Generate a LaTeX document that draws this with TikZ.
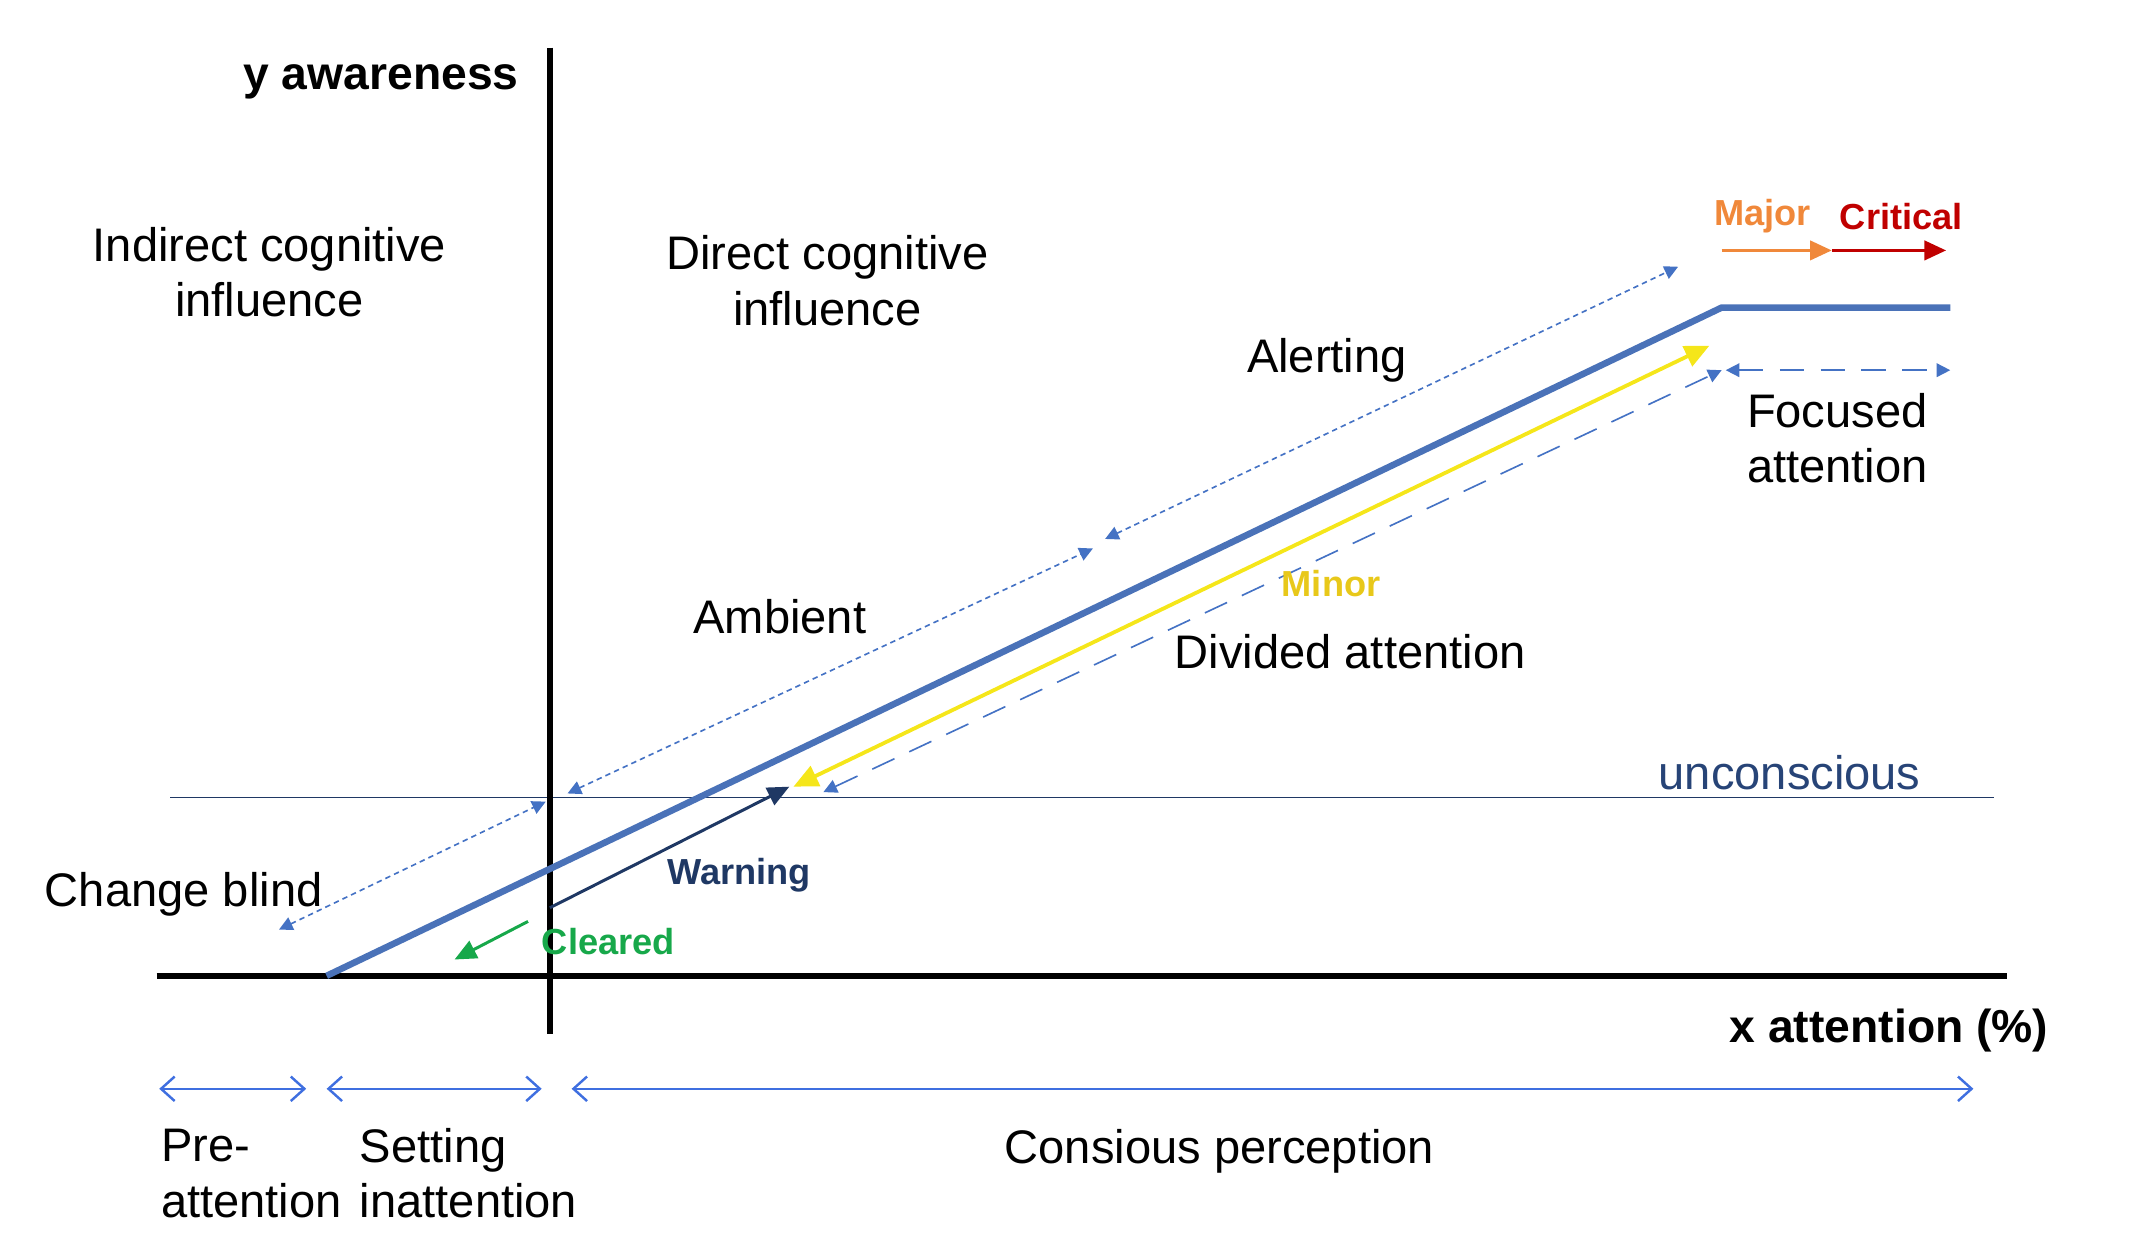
\documentclass[tikz,border=0pt]{standalone}
\usepackage{fontspec}
\setmainfont{Liberation Sans}
\usetikzlibrary{arrows.meta}
\definecolor{mainblue}{HTML}{4A72B8}
\definecolor{navy}{HTML}{1F3864}
\definecolor{dotblue}{HTML}{4472C4}
\definecolor{arrblue}{HTML}{3F6FE0}
\definecolor{cgreen}{HTML}{17A84A}
\definecolor{cyellow}{HTML}{F5E61A}
\definecolor{cminor}{HTML}{E8C81A}
\definecolor{corange}{HTML}{F0883A}
\definecolor{cred}{HTML}{C00000}
\tikzset{
 lab/.style={font=\fontsize{17.3}{20.5}\selectfont, align=center, inner sep=0},
 blab/.style={font=\bfseries\fontsize{13.3}{15}\selectfont, inner sep=0},
 axis/.style={line width=2.2pt, black},
 dotl/.style={dotblue, line width=0.6pt, dash pattern=on 2pt off 1.5pt, {Triangle[length=5pt,width=5pt]}-{Triangle[length=5pt,width=5pt]}},
 dashl/.style={dotblue, line width=0.6pt, dash pattern=on 9pt off 6pt, {Triangle[length=5pt,width=5pt]}-{Triangle[length=5pt,width=5pt]}},
 span/.style={arrblue, line width=0.9pt, {Straight Barb[length=5pt,width=9pt]}-{Straight Barb[length=5pt,width=9pt]}},
}
\begin{document}
\begin{tikzpicture}[x=0.5pt,y=-0.5pt]
\useasboundingbox (0,0) rectangle (1568,922);
% axes
\coordinate (yt) at (404,35); \coordinate (yb) at (404,760);
\coordinate (xl) at (115,717); \coordinate (xr) at (1475,717);
\coordinate (ul) at (125,586); \coordinate (ur) at (1465,586);
\draw[navy, line width=0.6pt] (ul) -- (ur);
\draw[axis] (yt) -- (yb);
\draw[axis] (xl) -- (xr);
% main line
\coordinate (m0) at (240,717); \coordinate (m1) at (1265,226); \coordinate (m2) at (1433,226);
\draw[mainblue, line width=2.4pt] (m0) -- (m1) -- (m2);
% dotted
\coordinate (d1) at (205,683); \coordinate (d2) at (401,589);
\coordinate (d3) at (417,583); \coordinate (d4) at (803,403);
\coordinate (d5) at (812,396); \coordinate (d6) at (1233,196);
\draw[dotl] (d1) -- (d2);
\draw[dotl] (d3) -- (d4);
\draw[dotl] (d5) -- (d6);
% dashed
\coordinate (e1) at (605,582); \coordinate (e2) at (1265,272); \coordinate (e3) at (1433,272);
\coordinate (e4) at (1268,272);
\draw[dashl] (e1) -- (e2);
\draw[dashl] (e4) -- (e3);
% yellow
\coordinate (y1) at (583,578); \coordinate (y2) at (1256,254);
\draw[cyellow, line width=1.4pt, {Triangle[length=9pt,width=8pt]}-{Triangle[length=9pt,width=8pt]}] (y1) -- (y2);
% warning / cleared
\coordinate (w0) at (404,667); \coordinate (w1) at (580,578);
\draw[navy, line width=1.1pt, -{Triangle[length=8pt,width=7pt]}] (w0) -- (w1);
\coordinate (c0) at (388,677); \coordinate (c1) at (334,705);
\draw[cgreen, line width=1.1pt, -{Triangle[length=8pt,width=7pt]}] (c0) -- (c1);
% major critical
\coordinate (k0) at (1265,184); \coordinate (k1) at (1346,184); \coordinate (k2) at (1430,184);
\draw[corange, line width=1.4pt, -{Triangle[length=8pt,width=7pt]}] (k0) -- (k1);
\draw[cred, line width=1.4pt, -{Triangle[length=8pt,width=7pt]}] (k1) -- (k2);
% spans
\coordinate (s1) at (117,800); \coordinate (s2) at (225,800);
\coordinate (s3) at (240,800); \coordinate (s4) at (398,800);
\coordinate (s5) at (420,800); \coordinate (s6) at (1450,800);
\draw[span] (s1) -- (s2); \draw[span] (s3) -- (s4); \draw[span] (s5) -- (s6);
% labels
\node[font=\bfseries\fontsize{17}{20}\selectfont, inner sep=0] (ya) at (280,60) {y awareness};
\node[font=\bfseries\fontsize{17}{20}\selectfont, inner sep=0] (xa) at (1388,757) {x attention (\%)};
\node[lab] (ici) at (198,200) {Indirect cognitive\\influence};
\node[lab] (dci) at (608,206) {Direct cognitive\\influence};
\node[lab] (al) at (975,265) {Alerting};
\node[lab] (am) at (573,453) {Ambient};
\node[blab, text=cminor] (mi) at (978,429) {Minor};
\node[lab] (da) at (992,479) {Divided attention};
\node[lab] (fa) at (1350,322) {Focused\\attention};
\node[lab, text=navy!80!dotblue] (un) at (1315,568) {unconscious};
\node[lab] (cb) at (135,657) {Change blind};
\node[blab, text=navy] (wa) at (543,643) {Warning};
\node[blab, text=cgreen] (cl) at (447,692) {Cleared};
\node[blab, text=corange] (ma) at (1295,159) {Major};
\node[blab, text=cred] (cr) at (1397,159) {Critical};
\node[lab, align=left, anchor=west] (pa) at (118,862) {Pre-\\attention};
\node[lab, align=left, anchor=west] (si) at (264,862) {Setting\\inattention};
\node[lab] (cp) at (896,846) {Consious perception};
\end{tikzpicture}
\end{document}
